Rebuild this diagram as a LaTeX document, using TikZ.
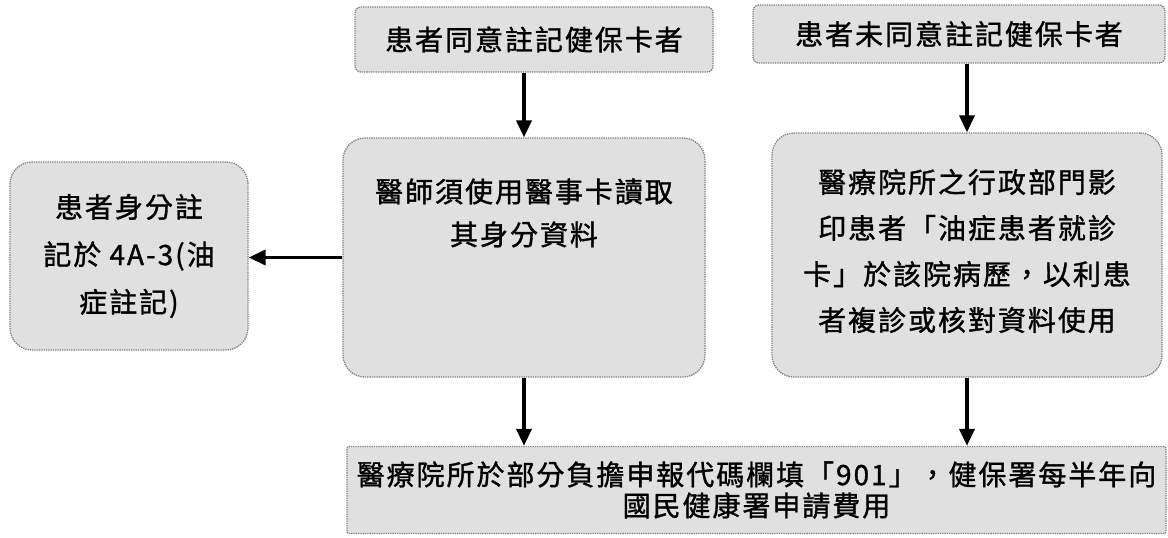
\documentclass[tikz,border=0pt]{standalone}
\usepackage{fontspec}
\newfontfamily\cjk[LetterSpace=7,FakeBold=1.2]{Noto Sans CJK TC}
\usetikzlibrary{arrows.meta}
\begin{document}
\begin{tikzpicture}[x=1pt,y=-1pt,
  box/.style={draw=black!50, densely dotted, line width=1.3pt, fill=black!12, rounded corners=#1, inner sep=0pt},
  box/.default=6pt,
  txt/.style={font=\cjk\fontsize{28}{46}\selectfont, align=center, inner sep=0pt},
  arr/.style={line width=3.6pt, -{Triangle[length=17pt,width=15pt]}}]
\useasboundingbox (0,0) rectangle (1168,538);
\fill[white] (0,0) rectangle (1168,538);

\node[box=6pt, txt, minimum width=358pt, minimum height=65pt] (A) at (534,39.5) {患者同意註記健保卡者};
\node[box=6pt, txt, minimum width=412pt, minimum height=58pt] (B) at (959,34) {患者未同意註記健保卡者};

\node[box=22pt, minimum width=362pt, minimum height=239pt] (C) at (524,257.5) {};
\node[txt, font=\cjk\fontsize{28}{43}\selectfont] (Ct) at (524,213) {醫師須使用醫事卡讀取\\其身分資料};

\node[box=22pt, txt, font=\cjk\fontsize{28}{47.5}\selectfont, minimum width=238pt, minimum height=188pt] (D) at (129,256) {患者身分註\\記於 4A-3(油\\症註記)};

\node[box=22pt, minimum width=390pt, minimum height=244pt] (E) at (967,255) {};
\node[txt] (Et) at (967,251) {醫療院所之行政部門影\\印患者「油症患者就診\\卡」於該院病歷，以利患\\者複診或核對資料使用};

\node[box=2pt, txt, font=\cjk\fontsize{28}{31}\selectfont, minimum width=819pt, minimum height=87pt] (F) at (756.5,490) {醫療院所於部分負擔申報代碼欄填「901」，健保署每半年向\\國民健康署申請費用};

\draw[arr] (C.north |- A.south) -- (C.north);
\draw[arr] (E.north |- B.south) -- (E.north);
\draw[arr] (C.west) -- (C.west -| D.east);
\draw[arr] (C.south) -- (C.south |- F.north);
\draw[arr] (E.south) -- (E.south |- F.north);
\end{tikzpicture}
\end{document}
